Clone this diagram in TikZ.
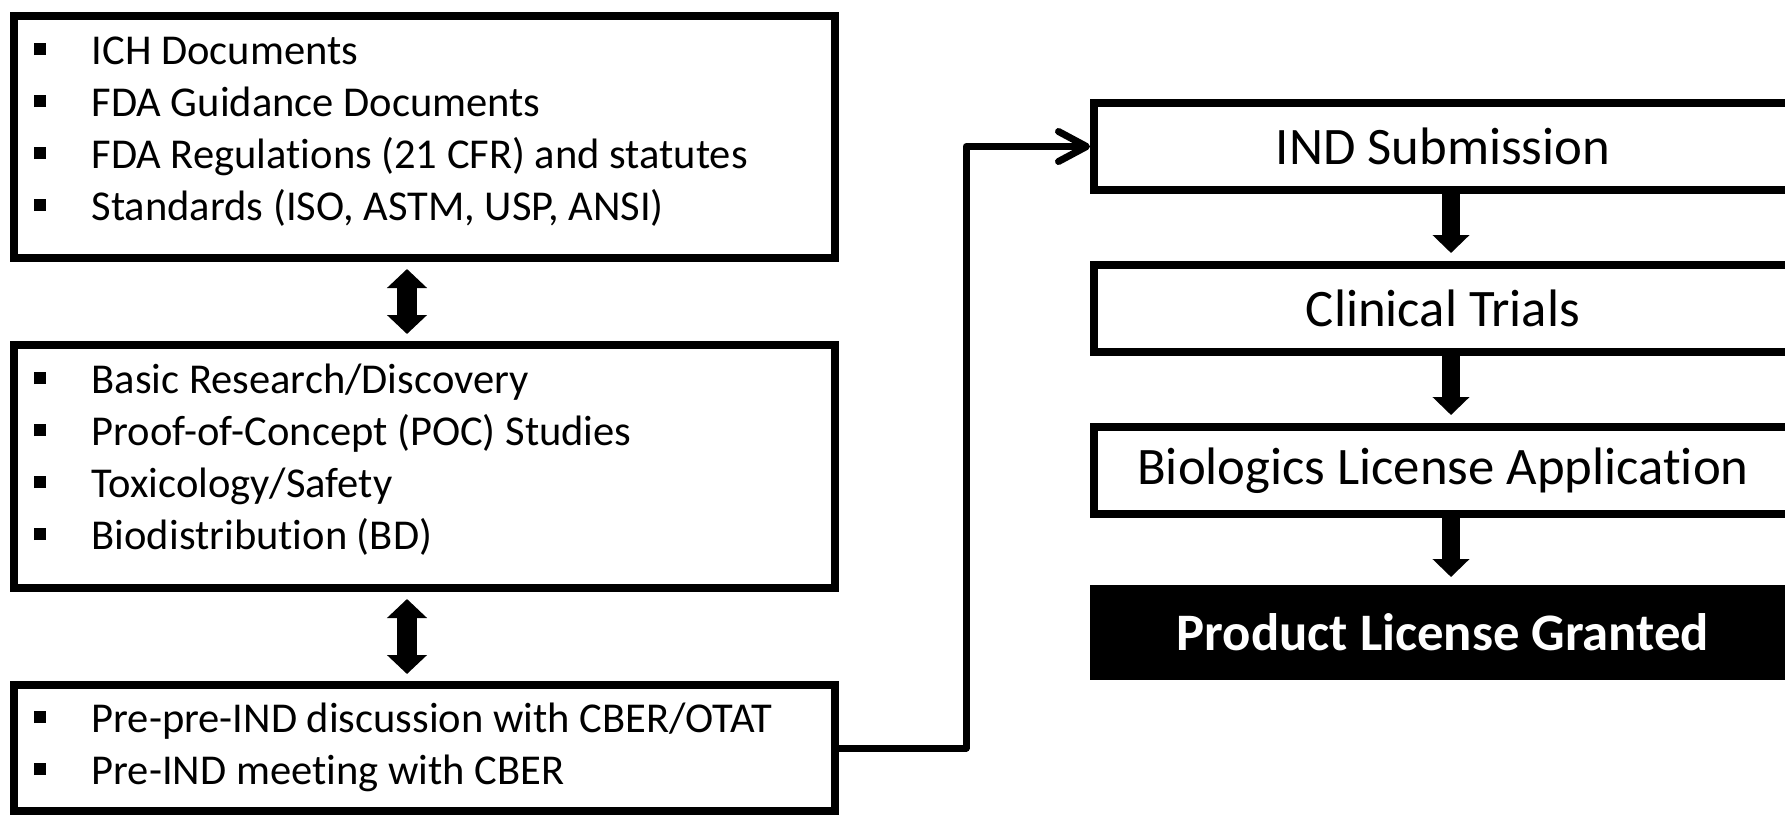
\documentclass[tikz,border=0pt]{standalone}
\usepackage{fontspec}
\setmainfont{Carlito}[Ligatures=NoCommon]
\usepackage{tikz}
\usetikzlibrary{arrows.meta}
\usetikzlibrary{positioning}

\newcommand{\sqbullet}{\makebox[5.8mm][l]{\rule[0.9mm]{1.2mm}{1.2mm}}}
\newcommand{\firstline}{\rule{0pt}{9.1pt}}

\begin{document}
\begin{tikzpicture}[on grid, node distance=1.62cm,
    listbox/.style={draw, line width=0.8mm, minimum width=8.21cm},
    bullets/.style={anchor=north west, align=left, inner sep=0pt,
                    font=\fontsize{12.1}{14.8}\selectfont},
    stagebox/.style={draw, line width=0.8mm, minimum width=6.98cm,
                     minimum height=0.87cm, font=\fontsize{15}{17}\selectfont},
    fat/.style={line width=1.8mm, -{Triangle[length=1.8mm, width=3.6mm]},
                shorten >=0.8mm},
    fatboth/.style={line width=2mm,
                {Triangle[length=1.9mm, width=3.9mm]}-{Triangle[length=1.9mm, width=3.9mm]},
                shorten >=0.7mm, shorten <=0.7mm},
    link/.style={line width=0.7mm, line join=round,
                 -{Straight Barb[length=2.8mm, width=3mm, round]}}]

        \useasboundingbox (0,0) rectangle (17.85,-8.14);

        % left column
        \node[listbox, minimum height=2.42cm]       (regs)    at (4.245,-1.37) {};
        \node[listbox, minimum height=2.43cm]       (preclin) [below=3.295cm of regs] {};
        \node[listbox, minimum height=1.26cm]       (preind)  [below=2.815cm of preclin] {};

        \node[bullets] (regs-list) at ([shift={(0.23,-0.195)}]regs.north west)
          {\firstline\sqbullet ICH Documents\\
           \sqbullet FDA Guidance Documents\\
           \sqbullet FDA Regulations (21 CFR) and statutes\\
           \sqbullet Standards (ISO, ASTM, USP, ANSI)};
        \node[bullets] (preclin-list) at ([shift={(0.23,-0.195)}]preclin.north west)
          {\firstline\sqbullet Basic Research/Discovery\\
           \sqbullet Proof-of-Concept (POC) Studies\\
           \sqbullet Toxicology/Safety\\
           \sqbullet Biodistribution (BD)};
        \node[bullets] (preind-list) at ([shift={(0.23,-0.185)}]preind.north west)
          {\firstline\sqbullet Pre-pre-IND discussion with CBER/OTAT\\
           \sqbullet Pre-IND meeting with CBER};

        % right column
        \node[stagebox]                  (ind)      at (14.43,-1.465) {IND Submission};
        \node[stagebox]                  (clinical) [below=of ind]      {Clinical Trials};
        \node[stagebox]                  (bla)      [below=of clinical] {Biologics License Application};
        \node[stagebox, fill=black, text=white, font=\fontsize{15}{17}\selectfont\bfseries]
                                         (granted)  [below=of bla]      {Product License Granted};

        \draw[fatboth] ([xshift=-1.75mm]regs.south)    -- ([xshift=-1.75mm]preclin.north);
        \draw[fatboth] ([xshift=-1.75mm]preclin.south) -- ([xshift=-1.75mm]preind.north);

        \draw[fat] ([xshift=0.8mm]ind.south)      -- ([xshift=0.8mm]clinical.north);
        \draw[fat] ([xshift=0.8mm]clinical.south) -- ([xshift=0.8mm]bla.north);
        \draw[fat] ([xshift=0.8mm]bla.south)      -- ([xshift=0.8mm]granted.north);

        \draw[link] (preind.east) -- ++(1.27,0) |- (ind.west);

\end{tikzpicture}
\end{document}
